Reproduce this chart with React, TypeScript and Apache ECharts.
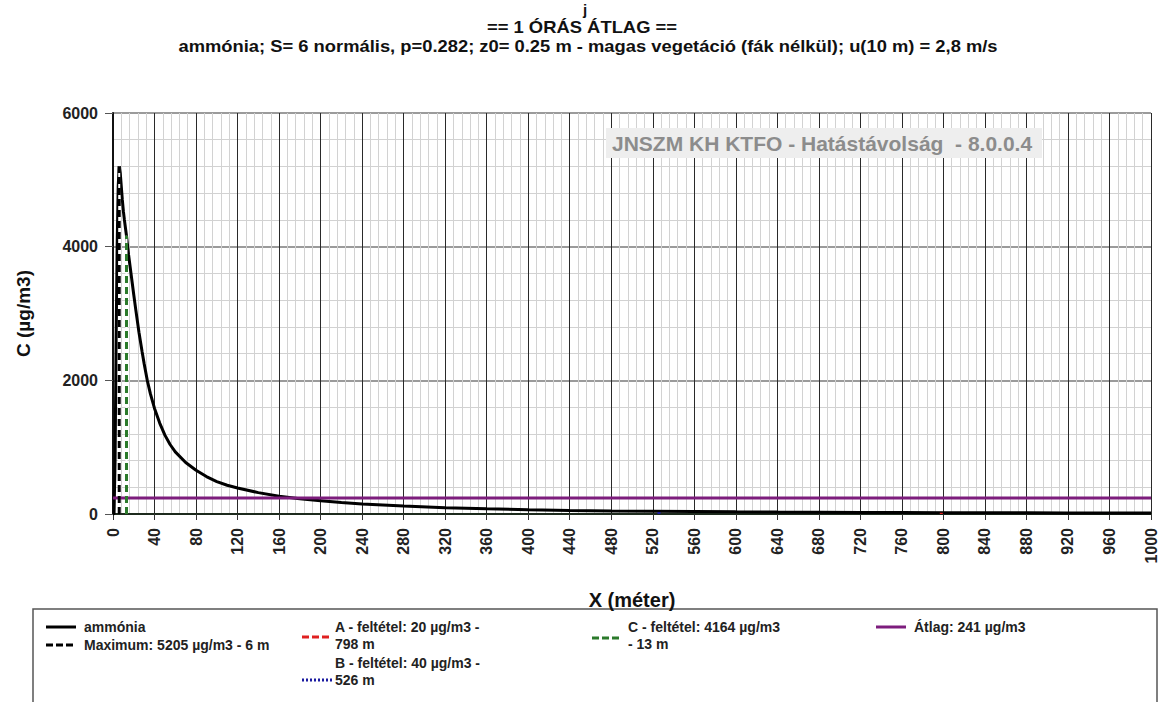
import React, { useEffect, useRef } from "react";
import * as echarts from "echarts";

// ---- data ----
const distances = [0, 1, 2, 3, 4, 5, 6, 7, 8, 9, 10, 11, 12, 13, 15, 18, 20, 22, 25, 28, 30, 33, 36, 40, 45, 50, 55, 60, 70, 80, 90, 100, 110, 120, 140, 160, 180, 200, 220, 240, 280, 320, 360, 400, 440, 480, 520, 560, 600, 640, 680, 720, 760, 800, 840, 880, 920, 960, 1000];
const concentrations = [0, 0, 800, 2600, 4000, 4900, 5205, 5100, 4900, 4700, 4530, 4400, 4280, 4164, 3880, 3520, 3280, 3050, 2720, 2430, 2250, 2000, 1800, 1580, 1360, 1180, 1040, 930, 770, 655, 560, 485, 430, 390, 320, 265, 228, 200, 172, 150, 118, 94, 77, 64, 54, 46, 40.5, 36, 32, 28.5, 25.5, 23, 21.3, 19.8, 18.4, 17.2, 16.1, 15.1, 14.2];

const maxPoint = { x: 6, value: 5205 };
const condA = { x: 798, value: 20 };
const condB = { x: 526, value: 40 };
const condC = { x: 13, value: 4164 };
const average = 241;

const titleLines = [
  "j",
  "== 1 ÓRÁS ÁTLAG ==",
  "ammónia; S= 6 normális, p=0.282; z0= 0.25 m - magas vegetáció (fák nélkül); u(10 m) = 2,8 m/s",
];
const watermarkText = "JNSZM KH KTFO - Hatástávolság  - 8.0.0.4";
const xName = "X (méter)";
const yName = "C (µg/m3)";

const legendAmmonia = "ammónia";
const legendMax = ["Maximum: 5205 µg/m3 - 6 m"];
const legendA = ["A - feltétel: 20 µg/m3 -", "798 m"];
const legendB = ["B - feltétel: 40 µg/m3 -", "526 m"];
const legendC = ["C - feltétel: 4164 µg/m3", "- 13 m"];
const legendAvg = "Átlag: 241 µg/m3";

const FONT = "'Liberation Sans', Arial, sans-serif";

export default function App() {
  const ref = useRef<HTMLDivElement>(null);
  useEffect(() => {
    if (!ref.current) return;
    const chart = echarts.init(ref.current, undefined, { renderer: "svg" });
    const curve = distances.map((d, i) => [d, concentrations[i]]);
    const vline = (p: { x: number; value: number }) => [
      [p.x, 0],
      [p.x, p.value],
    ];
    const txt = (x: number, y: number, text: string, extra: any = {}) => ({
      type: "text",
      x,
      y,
      silent: true,
      style: {
        text,
        font: `bold 14px ${FONT}`,
        fill: "#222",
        textVerticalAlign: "middle",
        ...extra,
      },
    });
    const lg = (x1: number, y: number, color: string, dash: any, w = 3) => ({
      type: "line",
      silent: true,
      shape: { x1, y1: y, x2: x1 + 30, y2: y },
      style: { stroke: color, lineWidth: w, lineDash: dash },
    });
    const title = (x: number, y: number, text: string, size: number, sx: number) => ({
      type: "text",
      x,
      y,
      scaleX: sx,
      silent: true,
      style: { text, font: `bold ${size}px ${FONT}`, fill: "#111", textAlign: "center", textVerticalAlign: "middle" },
    });

    chart.setOption({
      animation: false,
      backgroundColor: "#ffffff",
      textStyle: { fontFamily: FONT },
      grid: { left: 113, right: 6, top: 113, bottom: 188, containLabel: false },
      xAxis: {
        type: "value",
        min: 0,
        max: 1000,
        interval: 40,
        name: xName,
        nameLocation: "middle",
        nameGap: 76,
        nameTextStyle: { fontWeight: "bold", fontSize: 20, color: "#111", fontFamily: FONT },
        axisLine: { show: true, lineStyle: { color: "#1d2b1d", width: 2 } },
        axisTick: { show: true, length: 6, lineStyle: { color: "#333", width: 1 } },
        axisLabel: {
          rotate: 90,
          fontWeight: "bold",
          fontSize: 16,
          color: "#222",
          margin: 14,
          fontFamily: FONT,
          formatter: (v: number) => String(v),
        },
        splitLine: { show: true, lineStyle: { color: "#2a2a2a", width: 1 } },
        minorTick: { show: false, splitNumber: 5 },
        minorSplitLine: { show: true, lineStyle: { color: "#d2d2d2", width: 1 } },
      },
      yAxis: {
        type: "value",
        min: 0,
        max: 6000,
        interval: 2000,
        name: yName,
        nameLocation: "middle",
        nameGap: 80,
        nameRotate: 90,
        nameTextStyle: { fontWeight: "bold", fontSize: 19, color: "#111", fontFamily: FONT },
        axisLine: { show: true, lineStyle: { color: "#111", width: 2 } },
        axisTick: { show: true, length: 8, lineStyle: { color: "#555", width: 1 } },
        axisLabel: {
          fontWeight: "bold",
          fontSize: 16,
          color: "#222",
          margin: 15,
          fontFamily: FONT,
          formatter: (v: number) => String(v),
        },
        splitLine: { show: true, lineStyle: { color: "#7a7a7a", width: 1.5 } },
        minorTick: { show: false, splitNumber: 5 },
        minorSplitLine: { show: true, lineStyle: { color: "#d2d2d2", width: 1 } },
      },
      series: [
        {
          name: "ammónia",
          type: "line",
          data: curve,
          symbol: "none",
          lineStyle: { color: "#000", width: 3 },
          z: 3,
        },
        {
          name: "Átlag",
          type: "line",
          data: [[0, average], [1000, average]],
          symbol: "none",
          lineStyle: { color: "#7d1d7d", width: 3 },
          z: 4,
        },
        {
          name: "Maximum-bg",
          type: "line",
          data: vline(maxPoint),
          symbol: "none",
          lineStyle: { color: "#ffffff", width: 2 },
          z: 5,
        },
        {
          name: "Maximum",
          type: "line",
          data: vline(maxPoint),
          symbol: "none",
          lineStyle: { color: "#000", width: 3, type: [7, 4] },
          z: 6,
        },
        {
          name: "C-bg",
          type: "line",
          data: vline(condC),
          symbol: "none",
          lineStyle: { color: "#ffffff", width: 2 },
          z: 5,
        },
        {
          name: "C - feltétel",
          type: "line",
          data: vline(condC),
          symbol: "none",
          lineStyle: { color: "#2b7a2b", width: 3, type: [7, 4] },
          z: 6,
        },
        {
          name: "A - feltétel",
          type: "line",
          data: vline(condA),
          symbol: "none",
          lineStyle: { color: "#e02020", width: 3, type: [7, 4] },
          z: 6,
        },
        {
          name: "B - feltétel",
          type: "line",
          data: vline(condB),
          symbol: "none",
          lineStyle: { color: "#1a1aa0", width: 3, type: [2, 2] },
          z: 6,
        },
      ],
      graphic: [
        title(585, 9, titleLines[0], 15, 1),
        title(582, 27, titleLines[1], 16, 1.15),
        title(588, 46, titleLines[2], 17, 1.08),
        {
          type: "rect",
          silent: true,
          z: 50,
          shape: { x: 606, y: 128, width: 436, height: 30 },
          style: { fill: "#eeeeee" },
        },
        {
          type: "text",
          silent: true,
          z: 51,
          x: 612,
          y: 143,
          style: { text: watermarkText, font: `bold 21px ${FONT}`, fill: "#8c8c8c", textVerticalAlign: "middle" },
        },
        {
          type: "rect",
          silent: true,
          shape: { x: 33, y: 609, width: 1124, height: 110 },
          style: { fill: "none", stroke: "#555", lineWidth: 1.5 },
        },
        lg(46, 627, "#000", null),
        txt(84, 627, legendAmmonia),
        lg(46, 645, "#000", [7, 3]),
        txt(84, 645, legendMax[0]),
        lg(302, 637, "#e02020", [7, 3]),
        txt(335, 627, legendA[0]),
        txt(335, 644, legendA[1]),
        lg(302, 680, "#1a1aa0", [2, 2]),
        txt(335, 663, legendB[0]),
        txt(335, 680, legendB[1]),
        lg(592, 638, "#2b7a2b", [7, 3]),
        txt(628, 627, legendC[0]),
        txt(628, 644, legendC[1]),
        lg(876, 627, "#7d1d7d", null),
        txt(914, 627, legendAvg),
      ],
    });
    return () => chart.dispose();
  }, []);
  return (
    <div
      ref={ref}
      style={{ position: "fixed", left: 0, top: 0, width: 1159, height: 702, background: "#fff" }}
    />
  );
}
